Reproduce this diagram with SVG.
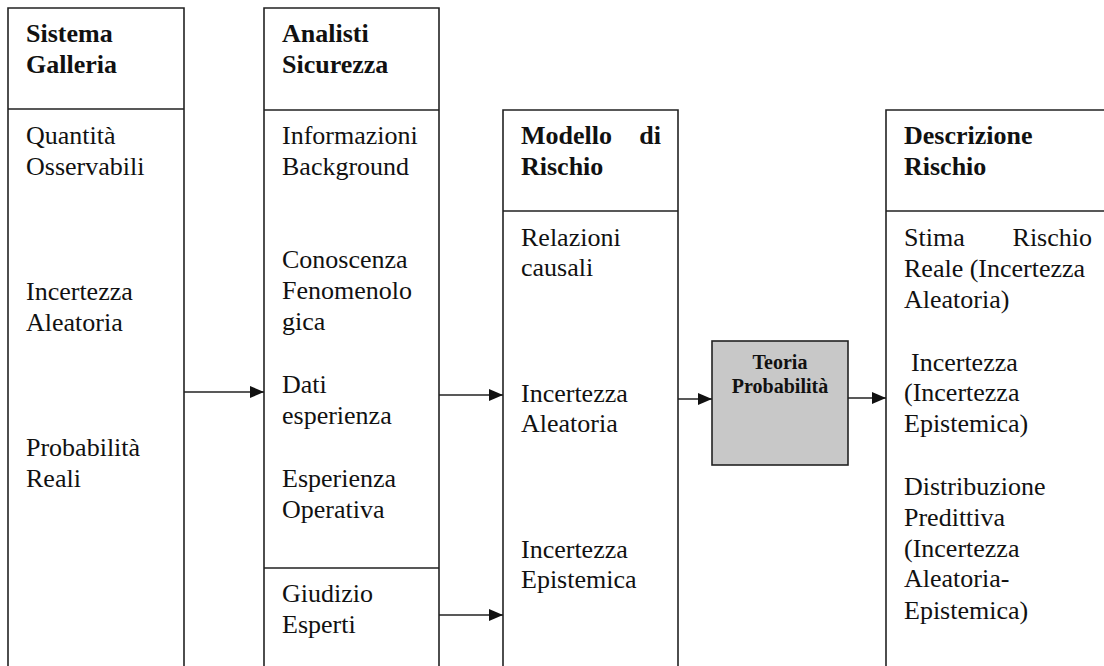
<svg xmlns="http://www.w3.org/2000/svg" width="1104" height="666" viewBox="0 0 1104 666">
<style>
.box{fill:#fff;stroke:#222;stroke-width:1.6}
.ln{stroke:#222;stroke-width:1.6;fill:none}
.t{font-family:"Liberation Serif","Times New Roman",serif;font-size:26px;fill:#111}
.h{font-family:"Liberation Serif","Times New Roman",serif;font-size:26px;font-weight:bold;fill:#111}
.s{font-family:"Liberation Serif","Times New Roman",serif;font-size:20px;font-weight:bold;fill:#111;text-anchor:middle}
</style>
<defs>
<marker id="arr" viewBox="0 0 14 12" refX="14" refY="6" markerWidth="14" markerHeight="12" markerUnits="userSpaceOnUse" orient="auto">
<path d="M0,0 L14,6 L0,12 Z" fill="#111"/>
</marker>
</defs>
<rect width="1104" height="666" fill="#fff"/>
<g id="sistema-galleria">
<path class="ln" d="M8,670 V8 H184 V670 M8,109 H184"/>
<text class="h" x="26" y="42">Sistema</text>
<text class="h" x="26" y="73">Galleria</text>
<text class="t" x="26" y="144">Quantità</text>
<text class="t" x="26" y="175">Osservabili</text>
<text class="t" x="26" y="300">Incertezza</text>
<text class="t" x="26" y="331">Aleatoria</text>
<text class="t" x="26" y="456">Probabilità</text>
<text class="t" x="26" y="487">Reali</text>
</g>
<g id="analisti-sicurezza">
<path class="ln" d="M264,670 V8 H439 V670 M264,110 H439 M264,568 H439"/>
<text class="h" x="282" y="42">Analisti</text>
<text class="h" x="282" y="73">Sicurezza</text>
<text class="t" x="282" y="144">Informazioni</text>
<text class="t" x="282" y="175">Background</text>
<text class="t" x="282" y="268">Conoscenza</text>
<text class="t" x="282" y="299">Fenomenolo</text>
<text class="t" x="282" y="330">gica</text>
<text class="t" x="282" y="393">Dati</text>
<text class="t" x="282" y="424">esperienza</text>
<text class="t" x="282" y="487">Esperienza</text>
<text class="t" x="282" y="518">Operativa</text>
<text class="t" x="282" y="602">Giudizio</text>
<text class="t" x="282" y="633">Esperti</text>
</g>
<g id="modello-rischio">
<path class="ln" d="M503,670 V110 H678 V670 M503,211 H678"/>
<text class="h" x="521" y="144">Modello</text>
<text class="h" x="661" y="144" text-anchor="end">di</text>
<text class="h" x="521" y="175">Rischio</text>
<text class="t" x="521" y="246">Relazioni</text>
<text class="t" x="521" y="276">causali</text>
<text class="t" x="521" y="402">Incertezza</text>
<text class="t" x="521" y="432">Aleatoria</text>
<text class="t" x="521" y="558">Incertezza</text>
<text class="t" x="521" y="588">Epistemica</text>
</g>
<g id="teoria-probabilita">
<rect x="712" y="341" width="136" height="124" fill="#c8c8c8" stroke="#222" stroke-width="1.6"/>
<text class="s" x="780" y="369">Teoria</text>
<text class="s" x="780" y="393">Probabilità</text>
</g>
<g id="descrizione-rischio">
<path class="ln" d="M886,670 V110 H1110 M886,211 H1110"/>
<text class="h" x="904" y="144">Descrizione</text>
<text class="h" x="904" y="175">Rischio</text>
<text class="t" x="904" y="246">Stima</text>
<text class="t" x="1092" y="246" text-anchor="end">Rischio</text>
<text class="t" x="904" y="277">Reale (Incertezza</text>
<text class="t" x="904" y="308">Aleatoria)</text>
<text class="t" x="911" y="371">Incertezza</text>
<text class="t" x="904" y="401">(Incertezza</text>
<text class="t" x="904" y="432">Epistemica)</text>
<text class="t" x="904" y="495">Distribuzione</text>
<text class="t" x="904" y="526">Predittiva</text>
<text class="t" x="904" y="557">(Incertezza</text>
<text class="t" x="904" y="587">Aleatoria-</text>
<text class="t" x="904" y="619">Epistemica)</text>
</g>
<g id="connectors">
<line class="ln" x1="184" y1="392" x2="264" y2="392" marker-end="url(#arr)"/>
<line class="ln" x1="439" y1="395" x2="503" y2="395" marker-end="url(#arr)"/>
<line class="ln" x1="439" y1="615" x2="503" y2="615" marker-end="url(#arr)"/>
<line class="ln" x1="678" y1="399" x2="712" y2="399" marker-end="url(#arr)"/>
<line class="ln" x1="848" y1="398" x2="886" y2="398" marker-end="url(#arr)"/>
</g>
</svg>
